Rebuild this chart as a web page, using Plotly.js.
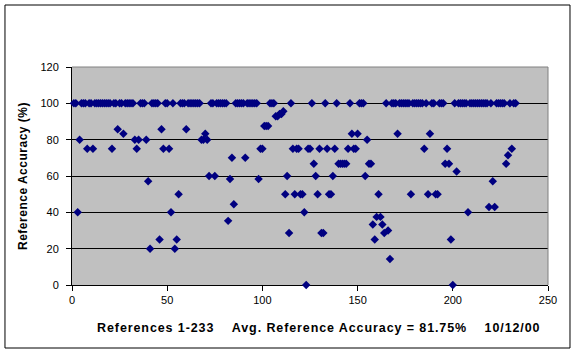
<!DOCTYPE html>
<html>
<head>
<meta charset="utf-8">
<script src="https://cdn.plot.ly/plotly-3.0.1.min.js"></script>
<style>
html,body{margin:0;padding:0;background:#fff;}
#chart{width:577px;height:354px;}
.xtitle{letter-spacing:0.9px;}
.ytitle{letter-spacing:0.5px;}
</style>
</head>
<body>
<div id="chart"></div>
<script>
// Reference accuracy (%) for references 1..233
const accuracy = [
  100,100,40,80,100,100,100,75,100,100,
  75,100,100,100,100,100,100,100,100,100,
  75,100,100,85.7,100,100,83.3,100,100,100,
  100,100,80,75,80,100,100,100,80,57.1,
  20,100,100,100,100,25,85.7,75,100,100,
  75,40,100,20,25,50,100,100,100,85.7,
  100,100,100,100,100,100,100,80,80,83.3,
  80,60,100,100,60,100,100,100,100,100,
  100,35.3,58.3,70,44.4,100,100,100,100,100,
  70,100,100,100,100,100,100,58.3,75,75,
  87.5,87.5,87.5,100,100,100,92.9,92.9,94.1,94.1,
  95.7,50,60,28.6,100,75,50,75,75,50,
  50,40,0,75,75,100,66.7,60,50,75,
  28.6,28.6,100,75,50,50,60,75,100,66.7,
  66.7,66.7,66.7,66.7,75,100,83.3,75,75,83.3,
  100,100,100,60,80,66.7,66.7,33.3,25,37.5,
  50,37.5,33.3,28.6,100,30,14.3,100,100,100,
  83.3,100,100,100,100,100,100,50,100,100,
  100,100,100,100,75,100,50,83.3,100,100,
  50,50,100,100,100,66.7,75,66.7,25,0,
  100,62.5,100,100,100,100,100,40,100,100,
  100,100,100,100,100,100,100,100,42.9,100,
  57.1,42.9,100,100,100,100,100,66.7,71.4,100,
  75,100,100
];
const referenceNo = accuracy.map((v, i) => i + 1);
const xTicks = [0, 50, 100, 150, 200, 250];
const yTicks = [0, 20, 40, 60, 80, 100, 120];
const NB = "\u00a0";
const xTitle = NB.repeat(4) + "References 1-233" + NB.repeat(4) + "Avg. Reference Accuracy = 81.75%" + NB.repeat(4) + "10/12/00";
const yTitle = "Reference Accuracy (%)";

const trace = {
  type: 'scatter', mode: 'markers',
  x: referenceNo, y: accuracy,
  marker: {symbol: 'diamond', size: 6.5, color: '#000080', line: {width: 0}},
  cliponaxis: false,
  hoverinfo: 'x+y'
};

const font = 'Liberation Sans, Arial, sans-serif';
const layout = {
  width: 577, height: 354,
  margin: {l: 72, r: 29, t: 67, b: 69},
  paper_bgcolor: '#ffffff',
  plot_bgcolor: '#C0C0C0',
  showlegend: false,
  font: {family: font, size: 11, color: '#000'},
  xaxis: {
    range: [0, 250], tickvals: xTicks, ticktext: xTicks.map(String),
    ticks: 'outside', ticklen: 5, tickcolor: '#000', tickwidth: 1,
    showline: true, linecolor: '#000', linewidth: 1,
    showgrid: false, zeroline: false, layer: 'below traces',
    tickfont: {family: font, size: 11, color: '#000'},
    automargin: false,
    title: {text: '<b>' + xTitle + '</b>', font: {family: font, size: 12.5, color: '#000'}, standoff: 18}
  },
  yaxis: {
    range: [0, 120], tickvals: yTicks, ticktext: yTicks.map(String),
    ticks: 'outside', ticklen: 5, tickcolor: '#000', tickwidth: 1,
    ticklabelstandoff: 5,
    showline: true, linecolor: '#000', linewidth: 1,
    showgrid: true, gridcolor: '#000', gridwidth: 1,
    zeroline: false, layer: 'below traces',
    tickfont: {family: font, size: 11, color: '#000'},
    automargin: false,
    title: {text: '<b>' + yTitle + '</b>', font: {family: font, size: 12, color: '#000'}, standoff: 10}
  },
  shapes: [
    {type: 'line', xref: 'paper', yref: 'paper', x0: 0, x1: 1, y0: 1, y1: 1, line: {color: '#808080', width: 1}, layer: 'above'},
    {type: 'line', xref: 'paper', yref: 'paper', x0: 1, x1: 1, y0: 0, y1: 1, line: {color: '#808080', width: 1}, layer: 'above'},
    {type: 'rect', xref: 'paper', yref: 'paper', x0: -0.1408, x1: 1.0462, y0: -0.289, y1: 1.2844, line: {color: '#000', width: 1}, fillcolor: 'rgba(0,0,0,0)', layer: 'above'}
  ]
};

Plotly.newPlot('chart', [trace], layout, {displayModeBar: false, staticPlot: true});
</script>
</body>
</html>
